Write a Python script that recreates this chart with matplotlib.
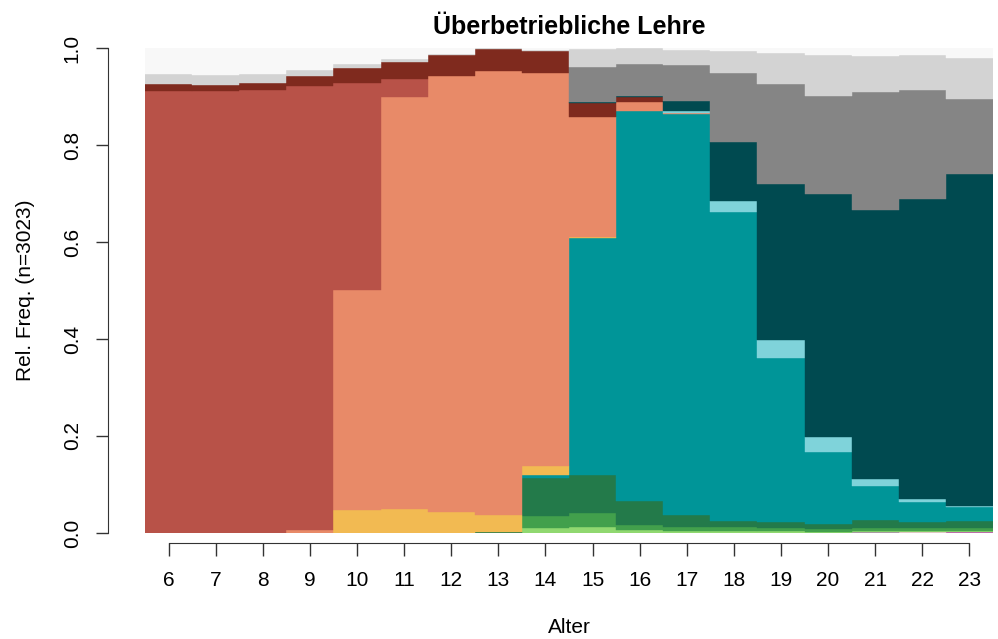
import numpy as np
import matplotlib
matplotlib.use("Agg")
import matplotlib.pyplot as plt

plt.rcParams['font.family'] = ['Liberation Sans', 'DejaVu Sans']

ages = np.arange(6, 24)

# state shares per age (6..23), stacked bottom to top
magenta   = [0, 0, 0, 0, 0, 0, 0, 0, 0, 0, 0, 0, 0, 0, 0, 0, 0, 0.003]
pink      = [0, 0, 0, 0, 0, 0, 0, 0, 0, 0, 0, 0, 0, 0, 0, 0, 0.003, 0]
mauve     = [0, 0, 0, 0, 0, 0, 0, 0, 0, 0, 0, 0, 0, 0, 0, 0.003, 0, 0]
lightgreen = [0, 0, 0, 0, 0, 0, 0, 0, 0.010, 0.012, 0.006, 0.004, 0.005, 0.005, 0.003, 0.002, 0.002, 0.002]
green     = [0, 0, 0, 0, 0, 0, 0, 0, 0.025, 0.030, 0.010, 0.008, 0.007, 0.005, 0.005, 0.006, 0.005, 0.005]
darkgreen = [0, 0, 0, 0, 0, 0, 0, 0.002, 0.078, 0.078, 0.051, 0.025, 0.013, 0.012, 0.011, 0.016, 0.013, 0.015]
teal      = [0, 0, 0, 0, 0, 0, 0, 0, 0.007, 0.488, 0.803, 0.827, 0.637, 0.339, 0.148, 0.069, 0.041, 0.028]
yellow    = [0, 0, 0, 0, 0.047, 0.050, 0.043, 0.035, 0.018, 0.003, 0, 0, 0, 0, 0, 0, 0, 0]
salmon    = [0, 0, 0, 0.006, 0.454, 0.850, 0.900, 0.915, 0.810, 0.247, 0.019, 0.002, 0, 0, 0, 0, 0, 0]
red       = [0.912, 0.912, 0.914, 0.916, 0.427, 0.037, 0, 0, 0, 0, 0, 0, 0, 0, 0, 0, 0, 0]
darkred   = [0.013, 0.012, 0.013, 0.021, 0.031, 0.034, 0.042, 0.045, 0.045, 0.028, 0.009, 0, 0, 0, 0, 0, 0, 0]
lightteal = [0, 0, 0, 0, 0, 0, 0, 0, 0, 0, 0, 0.004, 0.023, 0.037, 0.031, 0.016, 0.007, 0.003]
darkteal  = [0, 0, 0, 0, 0, 0, 0, 0, 0, 0.003, 0.004, 0.021, 0.122, 0.322, 0.502, 0.554, 0.617, 0.684]
grey      = [0, 0, 0, 0, 0, 0, 0, 0, 0, 0.072, 0.066, 0.073, 0.141, 0.205, 0.201, 0.244, 0.225, 0.154]
lightgrey = [0.021, 0.020, 0.019, 0.012, 0.008, 0.007, 0.002, 0.002, 0.003, 0.036, 0.031, 0.032, 0.046, 0.065, 0.085, 0.074, 0.073, 0.086]
verylight = [0.054, 0.056, 0.054, 0.045, 0.033, 0.022, 0.013, 0.001, 0.004, 0.003, 0.001, 0.004, 0.006, 0.010, 0.014, 0.016, 0.014, 0.020]

states = [magenta, pink, mauve, lightgreen, green, darkgreen, teal, yellow,
          salmon, red, darkred, lightteal, darkteal, grey, lightgrey, verylight]
colors = ["#C850B8", "#F4C4D8", "#B08CB0", "#90D870", "#42A04C", "#237A4A",
          "#009598", "#F2BA52", "#E88A68", "#B85248", "#7F2A1E", "#7FD3DA",
          "#004A50", "#858585", "#D3D3D3", "#F8F8F8"]

fig = plt.figure(figsize=(9.98, 6.39), dpi=100)
ax = fig.add_axes([145 / 998, 106 / 639, 848 / 998, 485 / 639])

bottom = np.zeros(len(ages))
for vals, col in zip(states, colors):
    vals = np.array(vals)
    lw = np.where(vals > 0, 0.3, 0)
    ax.bar(ages, vals, width=1, bottom=bottom, color=col, edgecolor=col, linewidth=lw)
    bottom += vals

ax.set_xlim(5.5, 23.5)
ax.set_ylim(0, 1)

for s in ["top", "right"]:
    ax.spines[s].set_visible(False)
ax.spines["left"].set_position(("outward", 26.5))
ax.spines["bottom"].set_position(("outward", 7.5))
ax.spines["left"].set_bounds(0, 1)
ax.spines["bottom"].set_bounds(6, 23)
ax.spines["left"].set_color("#333333")
ax.spines["bottom"].set_color("#333333")

ax.set_xticks(ages)
ax.set_yticks([0, 0.2, 0.4, 0.6, 0.8, 1.0])
ax.set_yticklabels(["0.0", "0.2", "0.4", "0.6", "0.8", "1.0"], rotation=90, va="center")
ax.tick_params(axis="both", length=9, width=1, color="#333333", labelsize=15)
ax.tick_params(axis="x", pad=11)
ax.tick_params(axis="y", pad=10)

ax.set_xlabel("Alter", fontsize=15, labelpad=20)
ax.set_ylabel("Rel. Freq. (n=3023)", fontsize=15, labelpad=20)
ax.set_title("Überbetriebliche Lehre", fontsize=18, fontweight="bold", pad=10)

fig.savefig("out.png", dpi=100)
